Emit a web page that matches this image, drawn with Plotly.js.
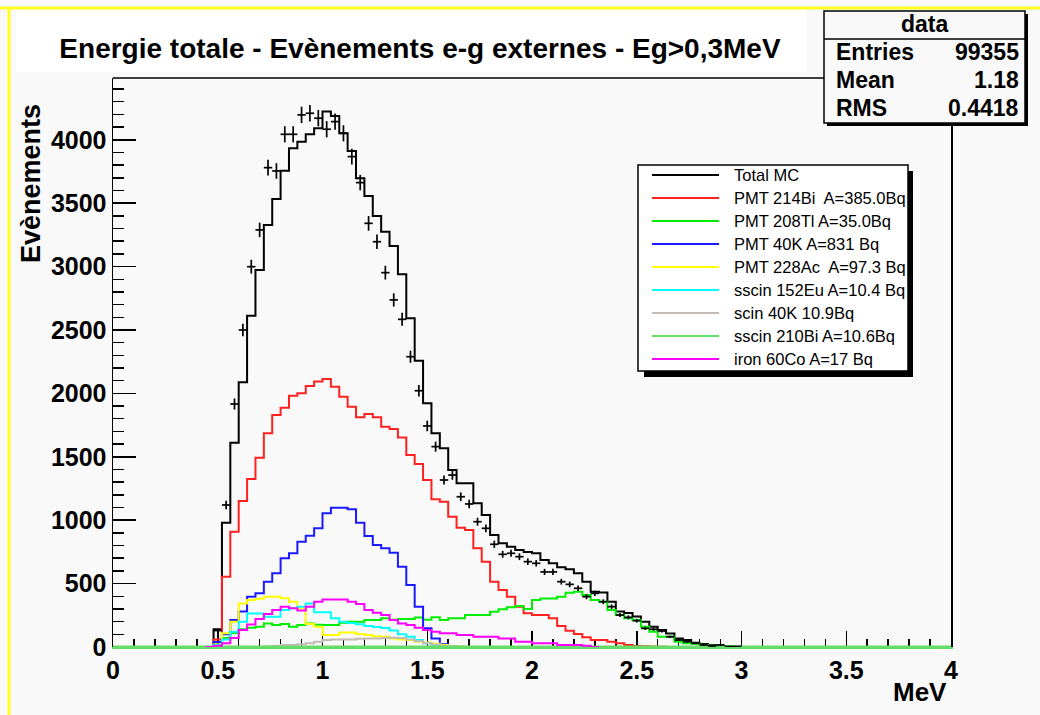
<!DOCTYPE html>
<html>
<head>
<meta charset="utf-8">
<script src="https://cdn.plot.ly/plotly-3.0.1.min.js"></script>
<style>html,body{margin:0;padding:0;background:#f9f9f9;}</style>
</head>
<body>
<div id="chart" style="width:1040px;height:715px;"></div>
<script>
// ---------------- data ----------------
// MC histograms: bins of 0.04 MeV, first bin starts at 0.48 MeV
const binWidth = 0.04;
const firstBinLow = 0.48;

const totalMC = [140, 980, 1611, 2088, 2613, 2973, 3328, 3533, 3756, 3933, 3985, 4043, 4091, 4222, 4188, 4051,
  3912, 3696, 3557, 3399, 3275, 3162, 2939, 2592, 2258, 1922, 1685, 1567, 1396, 1291, 1291, 1133, 1041, 883, 818,
  791, 765, 750, 740, 686, 660, 628, 613, 581, 515, 436, 430, 357, 279, 268, 240, 200, 160, 134, 107, 68, 55, 34,
  24, 16, 8, 5, 3, 0];
const pmt214Bi = [60, 554, 909, 1151, 1325, 1493, 1685, 1830, 1887, 1982, 2001, 2058, 2093, 2114, 2053, 1974,
  1895, 1811, 1838, 1811, 1737, 1719, 1653, 1514, 1443, 1317, 1165, 1146, 1028, 941, 922, 778, 673, 515, 450, 397,
  318, 266, 252, 252, 226, 165, 129, 103, 76, 55, 55, 42, 30, 16, 8, 5, 3, 2, 0];
const pmt208Tl = [20, 70, 110, 139, 152, 160, 186, 173, 181, 160, 173, 186, 175, 173, 173, 192, 200, 200, 213, 213,
  226, 215, 220, 220, 233, 215, 234, 213, 226, 226, 252, 252, 252, 278, 297, 313, 323, 300, 370, 383, 383, 396,
  428, 436, 410, 370, 357, 291, 252, 226, 213, 160, 121, 81, 81, 42, 29, 25, 16, 10, 5, 3, 0];
const pmt40K = [40, 100, 213, 279, 397, 423, 515, 581, 700, 739, 830, 878, 936, 1054, 1099, 1099, 1086, 980, 875,
  804, 778, 744, 633, 489, 318, 147, 68, 21, 3, 0];
const pmt228Ac = [20, 108, 200, 344, 371, 380, 397, 397, 384, 357, 305, 181, 160, 95, 95, 115, 115, 103, 95, 85,
  81, 68, 60, 55, 42, 35, 25, 15, 8, 3, 0];
const sscin152Eu = [15, 60, 120, 200, 265, 265, 239, 239, 292, 305, 318, 344, 275, 275, 226, 200, 190, 180, 165,
  158, 150, 130, 100, 80, 55, 30, 15, 8, 3, 0];
const scin40K = [0, 0, 0, 0, 0, 0, 3, 8, 16, 16, 21, 30, 42, 55, 60, 60, 60, 65, 68, 68, 70, 73, 70, 60, 45, 30,
  20, 10, 5, 2, 0];
const iron60Co = [10, 29, 70, 134, 178, 220, 260, 292, 318, 305, 287, 318, 357, 375, 375, 375, 357, 339, 292, 271,
  252, 213, 186, 173, 152, 134, 121, 108, 108, 95, 95, 81, 81, 81, 68, 68, 42, 42, 29, 29, 29, 16, 16, 16, 10, 0];
// sscin 210Bi lies on the axis over the whole range
const sscin210BiEnergy = [0, 4];
const sscin210BiCounts = [0, 0];

// data points: bin centres from 0.50 MeV, step 0.04
const dataFirstCenter = 0.50;
const dataCounts = [130, 1120, 1916, 2500, 2999, 3289, 3780, 3754, 4043, 4043, 4196, 4209, 4170, 4083, 4143, 4051,
  3867, 3662, 3341, 3196, 2952, 2737, 2584, 2289, 2021, 1743, 1580, 1317, 1356, 1185, 1128, 988, 936, 810, 731, 739,
  712, 673, 660, 592, 592, 515, 494, 463, 397, 423, 357, 318, 252, 234, 207, 147, 140, 126, 81, 55, 42, 29, 16, 8,
  16, 3, 3];

const seriesNames = ['Total MC', 'PMT 214Bi\u00a0 A=385.0Bq', 'PMT 208Tl A=35.0Bq', 'PMT 40K A=831 Bq',
  'PMT 228Ac\u00a0 A=97.3 Bq', 'sscin 152Eu A=10.4 Bq', 'scin 40K 10.9Bq', 'sscin 210Bi A=10.6Bq', 'iron 60Co A=17 Bq'];
const seriesColors = ['#000000', '#ff2020', '#00ee00', '#1a1aff', '#ffff00', '#00ffff', '#c4bcb4', '#66dd66', '#ff00ff'];

const statsLabels = ['Entries', 'Mean', 'RMS'];
const statsValues = ['99355', '1.18', '0.4418'];

// ---------------- build traces ----------------
function stepTrace(vals, name, color) {
  const x = [+(firstBinLow - binWidth).toFixed(2)], y = [0];
  vals.forEach((v, i) => { x.push(+(firstBinLow + i * binWidth).toFixed(2)); y.push(v); });
  x.push(+(firstBinLow + vals.length * binWidth).toFixed(2)); y.push(0);
  return {type: 'scatter', mode: 'lines', x: x, y: y, name: name, showlegend: false, hoverinfo: 'skip',
          line: {shape: 'hv', color: color, width: 2}};
}
const mcSeries = [totalMC, pmt214Bi, pmt208Tl, pmt40K, pmt228Ac, sscin152Eu, scin40K, null, iron60Co];
const traces = [];
mcSeries.forEach((vals, k) => {
  if (vals) traces.push(stepTrace(vals, seriesNames[k], seriesColors[k]));
  else traces.push({type: 'scatter', mode: 'lines', x: sscin210BiEnergy, y: sscin210BiCounts, name: seriesNames[k],
                    showlegend: false, hoverinfo: 'skip', line: {color: seriesColors[k], width: 3}});
});
const dataEnergy = dataCounts.map((_, i) => +(dataFirstCenter + i * binWidth).toFixed(2));
traces.push({type: 'scatter', mode: 'markers', x: dataEnergy, y: dataCounts, name: 'data', showlegend: false,
  marker: {size: 1, color: 'black'},
  error_y: {type: 'sqrt', color: 'black', thickness: 1.7, width: 0},
  error_x: {type: 'constant', value: binWidth / 2, color: 'black', thickness: 1.7, width: 0}});

// ---------------- layout helpers (pixel -> paper) ----------------
const L = 113, R = 89, T = 78, B = 68, W = 1040 - L - R, H = 715 - T - B;
const px = X => (X - L) / W;
const py = Y => (715 - B - Y) / H;

const shapes = [
  {type: 'line', xref: 'paper', yref: 'paper', x0: px(0), x1: px(1040), y0: py(8), y1: py(8), line: {color: '#ffff22', width: 3}},
  {type: 'line', xref: 'paper', yref: 'paper', x0: px(9), x1: px(9), y0: py(8), y1: py(715), line: {color: '#ffff22', width: 3}},
  {type: 'rect', xref: 'paper', yref: 'paper', layer: 'below', x0: px(16), x1: px(806), y0: py(72), y1: py(10), fillcolor: '#ffffff', line: {width: 0}},
  {type: 'line', xref: 'paper', yref: 'paper', x0: 0, x1: 1, y0: 1, y1: 1, line: {color: 'black', width: 1.5}},
  // stats box
  {type: 'rect', xref: 'paper', yref: 'paper', x0: px(827), x1: px(1028), y0: py(126), y1: py(14), fillcolor: 'black', line: {width: 0}},
  {type: 'rect', xref: 'paper', yref: 'paper', x0: px(824), x1: px(1025), y0: py(123), y1: py(11), fillcolor: '#f9f9f9', line: {color: 'black', width: 1.5}},
  {type: 'line', xref: 'paper', yref: 'paper', x0: px(824), x1: px(1025), y0: py(39), y1: py(39), line: {color: 'black', width: 1.5}},
  // legend box
  {type: 'rect', xref: 'paper', yref: 'paper', x0: px(644), x1: px(913), y0: py(377), y1: py(171), fillcolor: 'black', line: {width: 0}},
  {type: 'rect', xref: 'paper', yref: 'paper', x0: px(638), x1: px(908), y0: py(371), y1: py(165), fillcolor: '#ffffff', line: {color: 'black', width: 1.5}}
];
const legendRowY = [175, 198, 221, 244, 267, 290, 313, 336, 359];
const annotations = [];
seriesNames.forEach((n, k) => {
  shapes.push({type: 'line', xref: 'paper', yref: 'paper', x0: px(652), x1: px(719), y0: py(legendRowY[k]), y1: py(legendRowY[k]),
               line: {color: seriesColors[k], width: 2}});
  annotations.push({xref: 'paper', yref: 'paper', x: px(732), y: py(legendRowY[k]), xanchor: 'left', yanchor: 'middle',
                    text: n, showarrow: false, font: {size: 16.5, color: 'black'}});
});
annotations.push({xref: 'paper', yref: 'paper', x: px(925), y: py(24), xanchor: 'center', yanchor: 'middle', text: 'data',
                  showarrow: false, font: {size: 23, weight: 'bold'}});
const statsRowY = [52, 80, 108];
statsLabels.forEach((s, k) => {
  annotations.push({xref: 'paper', yref: 'paper', x: px(834), y: py(statsRowY[k]), xanchor: 'left', yanchor: 'middle',
                    text: s, showarrow: false, font: {size: 23, weight: 'bold'}});
  annotations.push({xref: 'paper', yref: 'paper', x: px(1021), y: py(statsRowY[k]), xanchor: 'right', yanchor: 'middle',
                    text: statsValues[k], showarrow: false, font: {size: 23, weight: 'bold'}});
});
annotations.push({xref: 'paper', yref: 'paper', x: px(31), y: py(184), xanchor: 'center', yanchor: 'middle', textangle: -90,
                  text: 'Evènements', showarrow: false, font: {size: 27, weight: 'bold'}});
annotations.push({xref: 'paper', yref: 'paper', x: px(949), y: py(692), xanchor: 'right', yanchor: 'middle',
                  text: 'MeV', showarrow: false, font: {size: 26, weight: 'bold'}});

const layout = {
  width: 1040, height: 715,
  margin: {l: L, r: R, t: T, b: B, pad: 0},
  paper_bgcolor: '#f9f9f9', plot_bgcolor: '#f9f9f9',
  font: {family: '"Liberation Sans", Arial, Helvetica, sans-serif', color: 'black'},
  showlegend: false,
  title: {text: 'Energie totale - Evènements e-g externes - Eg>0,3MeV', font: {size: 28, weight: 'bold'},
          xref: 'container', yref: 'container', x: 420 / 1040, xanchor: 'center', y: 1 - 48 / 715, yanchor: 'middle'},
  xaxis: {range: [0, 4], tick0: 0, dtick: 0.5, ticks: 'inside', ticklen: 16, tickwidth: 1.5, tickcolor: 'black',
          minor: {dtick: 0.1, ticks: 'inside', ticklen: 8, tickwidth: 1.5, tickcolor: 'black'},
          showgrid: false, zeroline: false, showline: true, linecolor: '#66dd66', linewidth: 2, mirror: false,
          layer: 'below traces', tickfont: {size: 25, weight: 'bold'}, fixedrange: true},
  yaxis: {range: [0, 4487], tick0: 0, dtick: 500, ticks: 'inside', ticklen: 23, tickwidth: 1.5, tickcolor: 'black',
          minor: {dtick: 100, ticks: 'inside', ticklen: 11, tickwidth: 1.5, tickcolor: 'black'},
          showgrid: false, zeroline: false, showline: true, linecolor: 'black', linewidth: 1.5, mirror: true,
          tickformat: 'd', layer: 'below traces', tickfont: {size: 25, weight: 'bold'}, fixedrange: true},
  shapes: shapes,
  annotations: annotations
};

Plotly.newPlot('chart', traces, layout, {displayModeBar: false, staticPlot: true});
</script>
</body>
</html>
